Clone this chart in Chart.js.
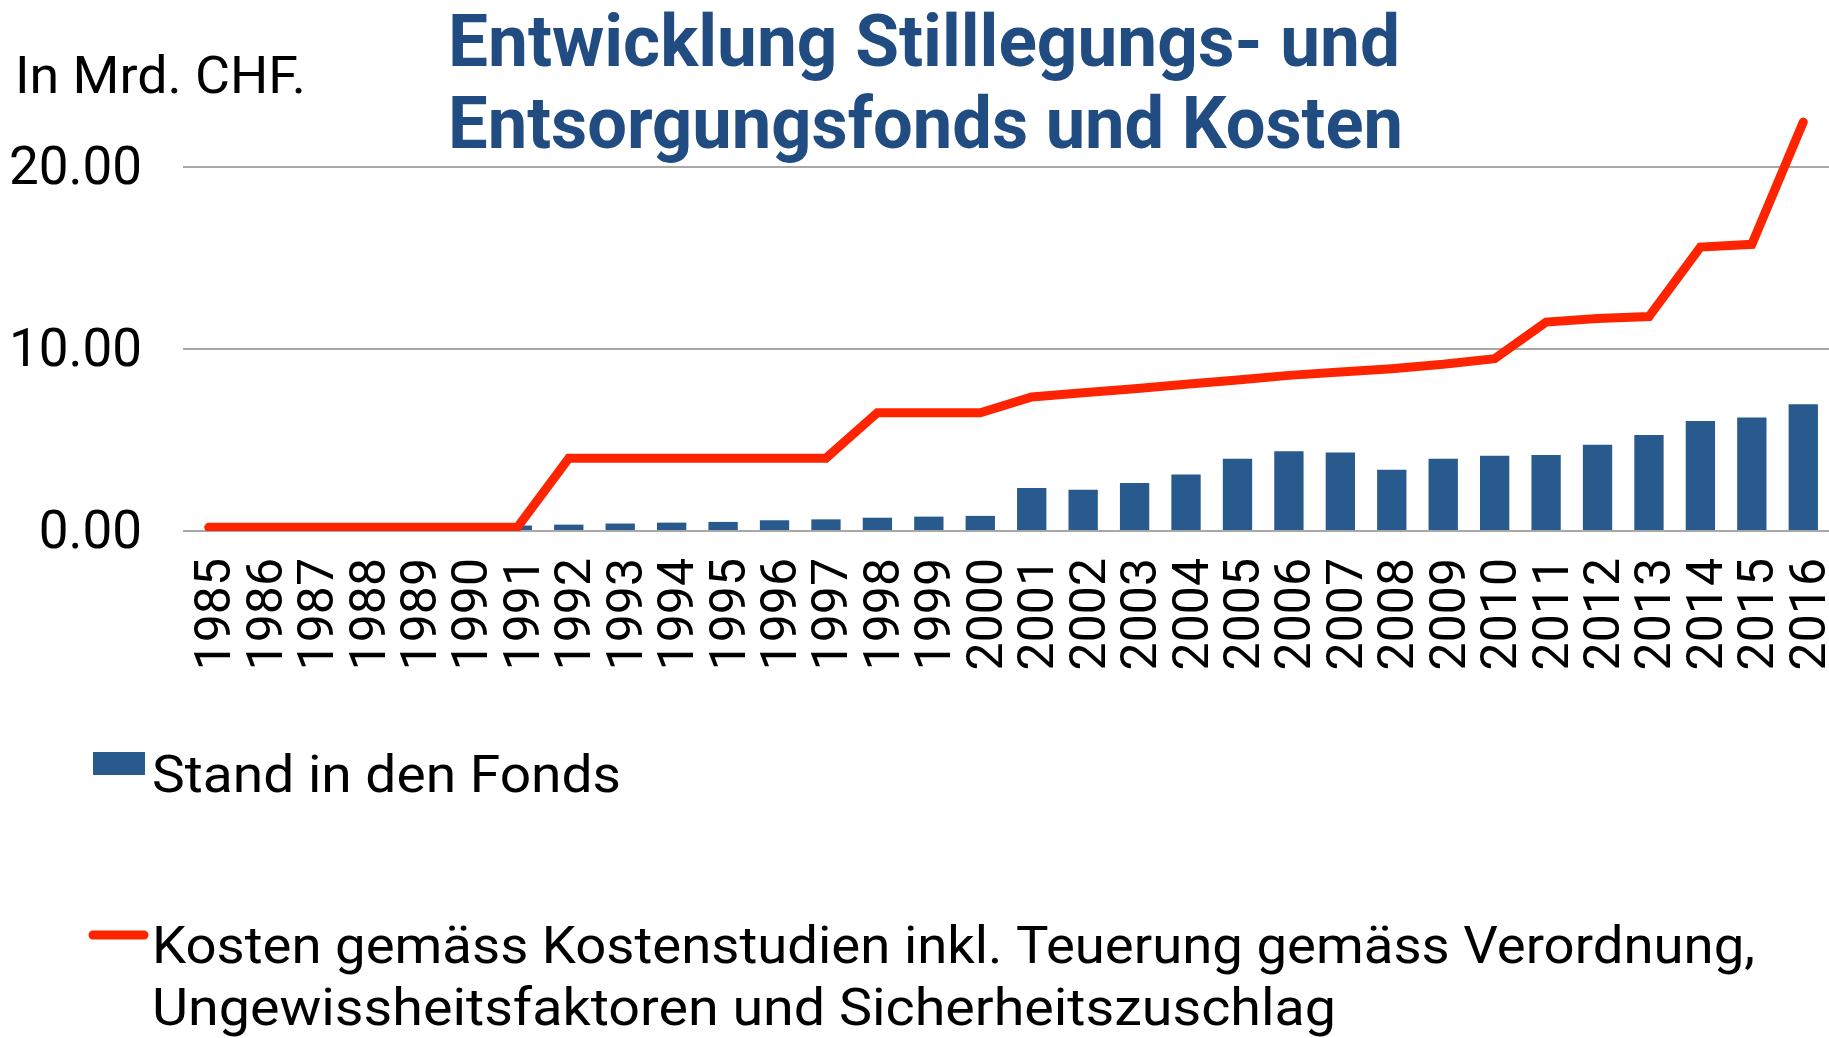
<!DOCTYPE html>
<html>
<head>
<meta charset="utf-8">
<script src="https://cdn.jsdelivr.net/npm/chart.js@4.4.1/dist/chart.umd.min.js"></script>
<style>
  html, body { margin: 0; padding: 0; background: #fff; }
  #wrap { width: 1829px; height: 1038px; }
</style>
</head>
<body>
<div id="wrap"><canvas id="chart-fonds" width="1829" height="1038"></canvas></div>
<script>
// data (Mrd. CHF)
const years = ['1985', '1986', '1987', '1988', '1989', '1990', '1991', '1992', '1993', '1994', '1995',
  '1996', '1997', '1998', '1999', '2000', '2001', '2002', '2003', '2004', '2005', '2006',
  '2007', '2008', '2009', '2010', '2011', '2012', '2013', '2014', '2015', '2016'];
const fondsStand = [null, null, null, null, null, null, 0.3, 0.35, 0.41, 0.46, 0.5,
  0.59, 0.64, 0.73, 0.79, 0.83, 2.36, 2.27, 2.64, 3.11, 3.97, 4.38,
  4.32, 3.37, 3.97, 4.14, 4.18, 4.74, 5.27, 6.04, 6.23, 6.96];
const kosten = [0.2, 0.2, 0.2, 0.2, 0.2, 0.2, 0.2, 4.0, 4.0, 4.0, 4.0,
  4.0, 4.0, 6.5, 6.5, 6.5, 7.36, 7.6, 7.82, 8.06, 8.3, 8.55,
  8.74, 8.92, 9.16, 9.47, 11.48, 11.67, 11.78, 15.6, 15.75, 22.47];
const yTicks = [0, 10, 20];

const chartTitle = ['Entwicklung Stilllegungs- und', 'Entsorgungsfonds und Kosten'];
const unitLabel = 'In Mrd. CHF.';
const legendFonds = ['Stand in den Fonds'];
const legendKosten = ['Kosten gemäss Kostenstudien inkl. Teuerung gemäss Verordnung,',
  'Ungewissheitsfaktoren und Sicherheitszuschlag'];

const blue = '#285a8d';
const red = '#ff2400';
const titleBlue = '#214c81';
const fam = 'Roboto, "Noto Sans", sans-serif';

// draws text squeezed/stretched to a given width
function fitText(ctx, text, x, y, w, font, color) {
  ctx.save();
  ctx.font = font;
  ctx.fillStyle = color;
  ctx.textAlign = 'left';
  ctx.textBaseline = 'alphabetic';
  const m = ctx.measureText(text).width;
  ctx.translate(x, y);
  ctx.scale(w / m, 1);
  ctx.fillText(text, 0, 0);
  ctx.restore();
}

const decor = {
  id: 'decor',
  afterDraw(chart) {
    const ctx = chart.ctx;
    const ds = chart.data.datasets;
    // title + unit
    fitText(ctx, chartTitle[0], 448, 66, 952, 'bold 72px ' + fam, titleBlue);
    fitText(ctx, chartTitle[1], 448, 148, 955, 'bold 72px ' + fam, titleBlue);
    fitText(ctx, unitLabel, 15, 93, 291, '52px ' + fam, '#000');

    // legend
    ctx.save();
    ctx.fillStyle = ds[0].backgroundColor;
    ctx.fillRect(93, 752, 52, 23);
    ctx.strokeStyle = ds[1].borderColor;
    ctx.lineWidth = 9;
    ctx.lineCap = 'round';
    ctx.beginPath();
    ctx.moveTo(93, 935);
    ctx.lineTo(144, 935);
    ctx.stroke();
    ctx.restore();
    fitText(ctx, legendFonds[0], 152, 792, 469, '52px ' + fam, '#000');
    fitText(ctx, legendKosten[0], 152, 963, 1603, '52px ' + fam, '#000');
    fitText(ctx, legendKosten[1], 152, 1025, 1184, '52px ' + fam, '#000');
  }
};

const ctxFonds = document.getElementById('chart-fonds');

new Chart(ctxFonds, {
  type: 'bar',
  data: {
    labels: years,
    datasets: [
      {
        label: legendFonds[0],
        data: fondsStand,
        backgroundColor: blue,
        borderWidth: 0,
        barPercentage: 0.57,
        categoryPercentage: 1.0,
        order: 2
      },
      {
        type: 'line',
        label: legendKosten.join(' '),
        data: kosten,
        borderColor: red,
        backgroundColor: red,
        borderWidth: 9,
        borderCapStyle: 'round',
        borderJoinStyle: 'miter',
        pointRadius: 0,
        tension: 0,
        fill: false,
        order: 1
      }
    ]
  },
  options: {
    responsive: false,
    animation: false,
    devicePixelRatio: 1,
    layout: { padding: { top: 76, left: 0, right: 0, bottom: 357 } },
    plugins: {
      legend: { display: false },
      title: { display: false },
      tooltip: { enabled: false }
    },
    scales: {
      x: {
        grid: { display: false, drawTicks: false },
        border: { display: false },
        ticks: {
          autoSkip: false,
          minRotation: 90,
          maxRotation: 90,
          padding: 27,
          labelOffset: 9,
          color: '#000',
          font: { family: fam, size: 50 }
        },
        afterFit(scale) {
          scale.height = 150;
          scale.paddingLeft = 0;
          scale.paddingRight = 0;
        }
      },
      y: {
        min: 0,
        max: 25,
        afterBuildTicks(scale) { scale.ticks = yTicks.map(v => ({ value: v })); },
        grid: { color: '#a8a8a8', lineWidth: 2, drawTicks: false },
        border: { display: false },
        ticks: {
          padding: 41,
          labelOffset: 4,
          color: '#000',
          font: { family: fam, size: 53 },
          callback: v => Number(v).toFixed(2)
        },
        afterFit(scale) {
          scale.width = 183;
          scale.paddingTop = 0;
          scale.paddingBottom = 0;
        }
      }
    }
  },
  plugins: [decor]
});
</script>
</body>
</html>
